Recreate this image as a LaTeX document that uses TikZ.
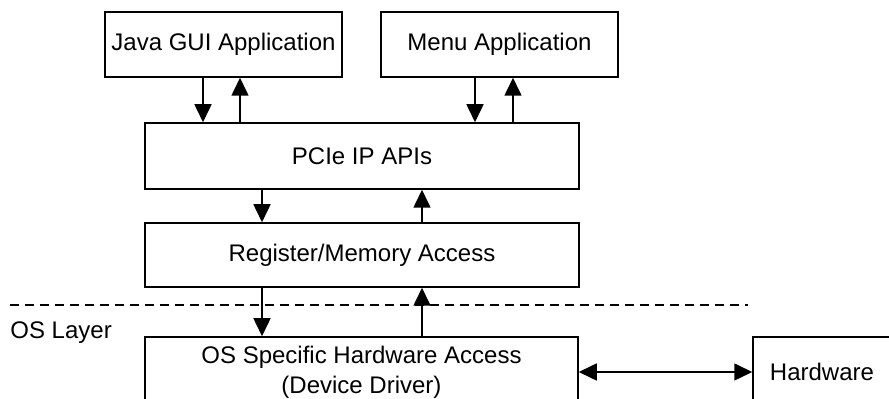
\documentclass[tikz,border=0pt]{standalone}
\usepackage{fontspec}
\setmainfont{Liberation Sans}
\usetikzlibrary{arrows.meta,positioning}
\tikzset{
  ar/.style={-{Triangle[length=9pt,width=8.5pt]},line width=0.8pt},
  dar/.style={{Triangle[length=9pt,width=8.5pt]}-{Triangle[length=9pt,width=8.5pt]},line width=0.8pt},
  box/.style={draw,line width=0.75pt,align=center,inner sep=0pt,font=\fontsize{12}{15}\selectfont},
  sep/.style={dash pattern=on 4.5pt off 3pt,line width=0.75pt},
  lbl/.style={font=\fontsize{12}{15}\selectfont,inner sep=0pt}
}

\begin{document}
\begin{tikzpicture}[x=0.5pt,y=-0.5pt]
\useasboundingbox (0,0) rectangle (889,399);
% application layer
\node[box,minimum width=118.5pt,minimum height=32.5pt] (java) at (223.5,44.5) {Java GUI Application};
\node[box,minimum width=118.5pt,minimum height=32.5pt] (menu) at (499.5,44.5) {Menu Application};
% library layers
\node[box,minimum width=217pt,minimum height=33pt] (api) at (362,156) {PCIe IP APIs};
\node[box,minimum width=217pt,minimum height=32pt] (reg) at (362,255) {Register/Memory Access};
% OS boundary
\draw[sep] (10,305) -- (748,305);
\node[lbl,anchor=west] (oslayer) at (10,333) {OS Layer};
\node[box,minimum width=216.5pt,minimum height=35pt] (drv) at (361.5,372) {OS Specific Hardware Access\\(Device Driver)};
\node[box,minimum width=72pt,minimum height=35pt] (hw) at (825,372) {};
\node[lbl] (hwtxt) at (822,372) {Hardware};
% calls down, results up
\draw[ar] ([xshift=-10.25pt]java.south) -- ([xshift=-10.25pt]java.south |- api.north);
\draw[ar] ([xshift=8.25pt]java.south |- api.north) -- ([xshift=8.25pt]java.south);
\draw[ar] ([xshift=-12.25pt]menu.south) -- ([xshift=-12.25pt]menu.south |- api.north);
\draw[ar] ([xshift=6.75pt]menu.south |- api.north) -- ([xshift=6.75pt]menu.south);
\draw[ar] ([xshift=-50pt]api.south) -- ([xshift=-50pt]reg.north);
\draw[ar] ([xshift=30pt]reg.north) -- ([xshift=30pt]api.south);
\draw[ar] ([xshift=-50pt]reg.south) -- ([xshift=-49.75pt]drv.north);
\draw[ar] ([xshift=30.25pt]drv.north) -- ([xshift=30pt]reg.south);
\draw[dar] (drv.east) -- (hw.west);
\end{tikzpicture}
\end{document}
